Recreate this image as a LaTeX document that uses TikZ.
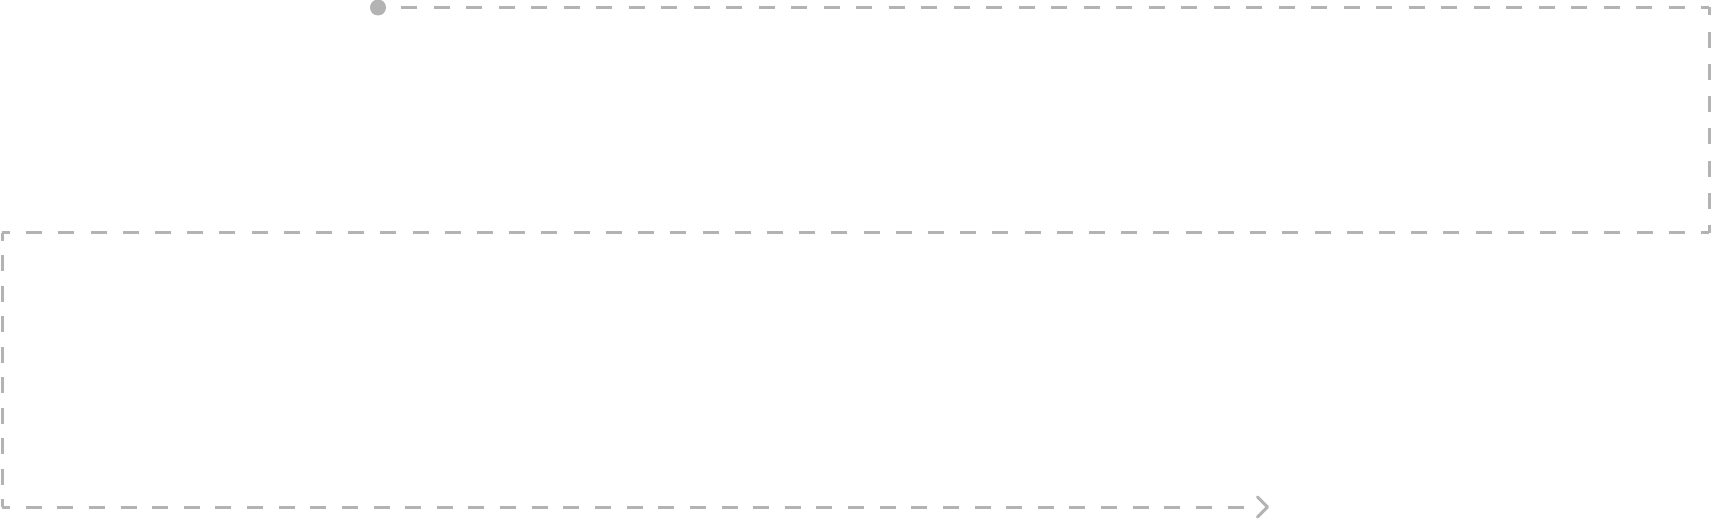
\documentclass[tikz,border=0pt]{standalone}
\usepackage{tikz}

\definecolor{flowgray}{HTML}{B3B3B3}

\begin{document}
\begin{tikzpicture}[x=1pt,y=1pt,
  flow/.style={draw=flowgray, line width=3pt},
  tipline/.style={draw=flowgray, line width=3pt, line join=round, line cap=round}]
  \useasboundingbox (0,0) rectangle (1712,520);
  \node[circle, fill=flowgray, minimum size=16pt, inner sep=0pt] (start) at (378,512.5) {};
  \coordinate (c1) at (1709,512.5);
  \coordinate (c2) at (1709,287);
  \coordinate (c3) at (2,287);
  \coordinate (c4) at (2,13);
  \coordinate (tail) at (1244,13);
  \coordinate (tip) at (1267.5,13);
  % one dash pattern per leg, so that every corner gets a dash
  \draw[flow, dash pattern=on 16pt off 16.5pt, dash phase=17.5pt] (start.east) -- (c1);
  \draw[flow, dash pattern=on 16pt off 16.21pt, dash phase=8pt] (c1) -- (c2);
  \draw[flow, dash pattern=on 16pt off 16.21pt, dash phase=8pt] (c2) -- (c3);
  \draw[flow, dash pattern=on 16pt off 14.44pt, dash phase=8pt] (c3) -- (c4);
  \draw[flow, dash pattern=on 16pt off 15.63pt, dash phase=8pt] (c4) -- (tail);
  \draw[tipline] (tip) ++(-10,10) -- (tip) -- ++(-10,-10);
\end{tikzpicture}
\end{document}
